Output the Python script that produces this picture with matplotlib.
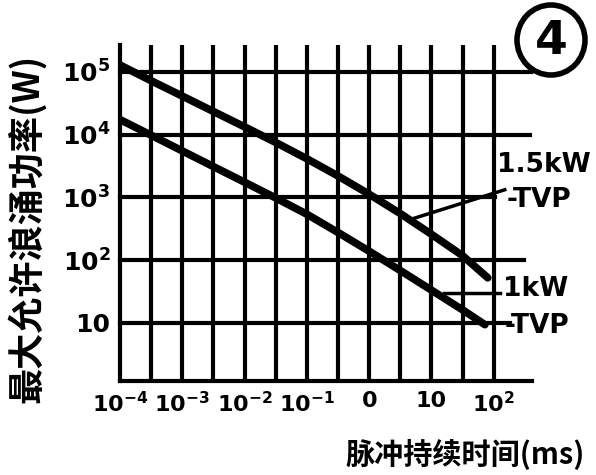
import matplotlib
matplotlib.use('Agg')
import matplotlib.pyplot as plt
from matplotlib.patches import Ellipse
import numpy as np

plt.rcParams['font.family'] = ['DejaVu Sans']
plt.rcParams['mathtext.fontset'] = 'dejavusans'

# 脉冲持续时间 (ms) -> 最大允许浪涌功率 (W)
t_15kw = [1e-4, 3.16e-4, 1e-3, 3.16e-3, 1e-2, 3.16e-2, 0.1, 0.316, 1, 3.16, 10, 31.6, 80]
p_15kw = [129000, 72400, 41200, 23400, 13300, 7500, 4120, 2190, 1120, 550, 257, 117, 52]

t_1kw = [1e-4, 3.16e-4, 1e-3, 3.16e-3, 1e-2, 3.16e-2, 0.1, 0.316, 1, 3.16, 10, 31.6, 72]
p_1kw = [17400, 9800, 5500, 3090, 1740, 977, 537, 275, 138, 68, 33, 16, 9.3]

xticks = [1e-4, 1e-3, 1e-2, 1e-1, 1, 10, 100]
xticklabels = [r'$\mathbf{10^{-4}}$', r'$\mathbf{10^{-3}}$', r'$\mathbf{10^{-2}}$',
               r'$\mathbf{10^{-1}}$', '0', '10', r'$\mathbf{10^{2}}$']
yticks = [10, 100, 1e3, 1e4, 1e5]
yticklabels = ['10', r'$\mathbf{10^{2}}$', r'$\mathbf{10^{3}}$',
               r'$\mathbf{10^{4}}$', r'$\mathbf{10^{5}}$']
# rechte Enden der waagerechten Linien
hline_end = [180, 300, 105, 380, 400]

fig = plt.figure(figsize=(5.96, 4.75), dpi=100)
ax = fig.add_axes([0.2013, 0.1979, 0.691, 0.7074])
ax.set_xscale('log')
ax.set_yscale('log')
ax.set_xlim(1e-4, 10 ** 2.61)
ax.set_ylim(10 ** 0.07, 10 ** 5.43)

# Gitter: alle halbe Dekade senkrecht
for v in 10 ** np.arange(-3.5, 2.01, 0.5):
    ax.axvline(v, color='k', lw=3, zorder=1)
for y, xe in zip(yticks, hline_end):
    ax.plot([1e-4, xe], [y, y], color='k', lw=3, zorder=1, clip_on=False)

ax.plot(t_15kw, p_15kw, color='k', lw=5.5, solid_capstyle='round', zorder=3)
ax.plot(t_1kw, p_1kw, color='k', lw=5.5, solid_capstyle='round', zorder=3)

# Beschriftungen rechts
ax.plot([4.47, 150], [440, 1320], color='k', lw=2.5, clip_on=False)
ax.plot([16, 125], [30, 30], color='k', lw=2.5, clip_on=False)
tk = dict(fontsize=19, fontweight='bold', va='center', ha='left')
ax.text(112, 3300, '1.5kW', **tk)
ax.text(162, 910, '-TVP', **tk)
ax.text(140, 34, '1kW', **tk)
ax.text(150, 8.9, '-TVP', **tk)

ax.spines['top'].set_visible(False)
ax.spines['right'].set_visible(False)
ax.spines['left'].set_linewidth(3)
ax.spines['bottom'].set_linewidth(3)
ax.minorticks_off()
ax.set_xticks(xticks)
ax.set_xticklabels(xticklabels, fontsize=16, fontweight='bold')
ax.set_yticks(yticks)
ax.set_yticklabels(yticklabels, fontsize=18, fontweight='bold')
ax.tick_params(length=0, pad=7)

cjk = ['Noto Sans CJK SC', 'DejaVu Sans']
fig.text(27 / 596, 1 - 228 / 475, '最大允许浪涌功率(W)', rotation=90, ha='center', va='center',
         fontsize=26, fontweight='bold', family=cjk)
fig.text(465 / 596, 1 - 455 / 475, '脉冲持续时间(ms)', ha='center', va='center',
         fontsize=21, fontweight='bold', family=cjk)

# Nummer im Kreis
fig.patches.append(Ellipse((551 / 596, 1 - 40 / 475), 68 / 596, 70 / 475, transform=fig.transFigure,
                           fill=False, lw=4, ec='k'))
fig.text(551 / 596, 1 - 42 / 475, '4', ha='center', va='center', fontsize=34, fontweight='bold')

fig.savefig('out.png', dpi=100)
